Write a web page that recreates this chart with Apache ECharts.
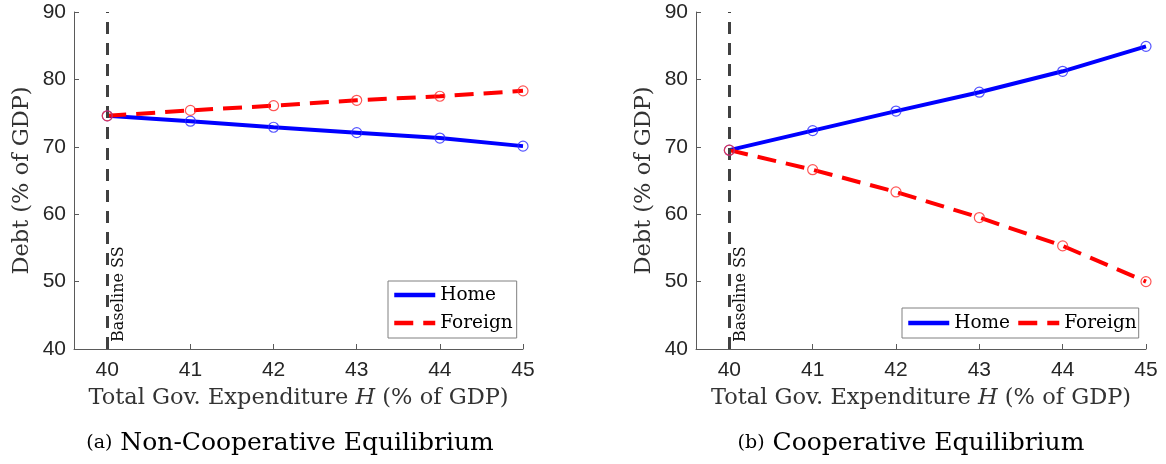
<!DOCTYPE html>
<html>
<head>
<meta charset="utf-8">
<title>Debt and total government expenditure</title>
<script src="https://cdn.jsdelivr.net/npm/echarts@6/dist/echarts.min.js"></script>
<style>body{margin:0;background:#fff;}</style>
</head>
<body>
<div id="main" style="width:1166px;height:464px;"></div>
<script type="text/javascript">
// total gov. expenditure H (% of GDP)
var hValues = [40, 41, 42, 43, 44, 45];
var xTicks = [40, 41, 42, 43, 44, 45];
var xMin = 39.6, xMax = 45;
var yMin = 40, yMax = 90, yStep = 10;
var baselineH = 40;

// (a) non-cooperative equilibrium, debt in % of GDP
var nonCoopHome = [74.6, 73.8, 72.9, 72.1, 71.3, 70.1];
var nonCoopForeign = [74.6, 75.4, 76.1, 76.9, 77.5, 78.3];
// (b) cooperative equilibrium
var coopHome = [69.5, 72.4, 75.3, 78.1, 81.2, 84.9];
var coopForeign = [69.5, 66.6, 63.3, 59.5, 55.3, 50.0];

var seriesNames = ['Home', 'Foreign'];
var captions = ['Non-Cooperative Equilibrium', 'Cooperative Equilibrium'];

var serif = 'DejaVu Serif';
var sans = 'Liberation Sans';
var blue = '#0000ff', red = '#ff0000';

function pairs(xs, ys) {
    return xs.map(function (x, i) { return [x, ys[i]]; });
}

function xAxisFor(idx) {
    return {
        type: 'value', gridIndex: idx, min: xMin, max: xMax,
        axisLine: {show: true, onZero: false, lineStyle: {color: '#5a5a5a', width: 1}},
        axisTick: {show: true, inside: true, length: 5, customValues: xTicks, lineStyle: {color: '#5a5a5a'}},
        axisLabel: {customValues: xTicks, fontFamily: sans, fontSize: 21, color: '#262626', margin: 11},
        splitLine: {show: false},
        name: '{n|Total Gov. Expenditure }{i|H}{n| (% of GDP)}',
        nameLocation: 'middle', nameGap: 38,
        nameTextStyle: {
            rich: {
                n: {fontFamily: serif, fontSize: 22.5, color: '#333'},
                i: {fontFamily: serif, fontSize: 22.5, fontStyle: 'italic', color: '#333'}
            }
        }
    };
}

function yAxisFor(idx) {
    return {
        type: 'value', gridIndex: idx, min: yMin, max: yMax, interval: yStep,
        axisLine: {show: true, lineStyle: {color: '#5a5a5a', width: 1}},
        axisTick: {show: true, inside: true, length: 5, lineStyle: {color: '#5a5a5a'}},
        axisLabel: {fontFamily: sans, fontSize: 21, color: '#262626', margin: 8},
        splitLine: {show: false},
        name: 'Debt (% of GDP)',
        nameLocation: 'middle', nameGap: 40,
        nameTextStyle: {fontFamily: serif, fontSize: 22.5, color: '#333'}
    };
}

function panelSeries(idx, home, foreign) {
    return [
        {
            name: seriesNames[0], type: 'line', xAxisIndex: idx, yAxisIndex: idx,
            data: pairs(hValues, home), symbol: 'none',
            lineStyle: {color: blue, width: 4}, itemStyle: {color: blue},
            z: 3,
            markLine: {
                silent: true, symbol: 'none', animation: false,
                data: [{xAxis: baselineH}],
                lineStyle: {color: '#404040', width: 3, type: [12, 9]},
                label: {
                    show: true, formatter: 'Baseline SS', position: 'insideStartBottom',
                    distance: [7, 4], fontFamily: serif, fontSize: 16, color: '#111'
                }
            }
        },
        {
            name: seriesNames[1], type: 'line', xAxisIndex: idx, yAxisIndex: idx,
            data: pairs(hValues, foreign), symbol: 'none',
            lineStyle: {color: red, width: 4, type: [19, 10]}, itemStyle: {color: red},
            z: 4
        },
        {
            name: 'Home markers', type: 'scatter', xAxisIndex: idx, yAxisIndex: idx,
            data: pairs(hValues, home), symbol: 'circle', symbolSize: 10,
            itemStyle: {color: 'rgba(0,0,0,0)', borderColor: '#2a2aff', borderWidth: 1.2},
            z: 5
        },
        {
            name: 'Foreign markers', type: 'scatter', xAxisIndex: idx, yAxisIndex: idx,
            data: pairs(hValues, foreign), symbol: 'circle', symbolSize: 10,
            itemStyle: {color: 'rgba(0,0,0,0)', borderColor: '#ff2a2a', borderWidth: 1.2},
            z: 6
        }
    ];
}

var legendBase = {
    data: seriesNames,
    itemWidth: 41, itemHeight: 14,
    itemStyle: {opacity: 0, borderWidth: 0},
    lineStyle: {width: 4.5},
    backgroundColor: '#fff', borderColor: '#808080', borderWidth: 1, borderRadius: 0,
    textStyle: {fontFamily: serif, fontSize: 18.5, color: '#000', lineHeight: 22},
    selectedMode: false
};

var captionRich = {
    s: {fontFamily: serif, fontSize: 19, fill: '#000'},
    b: {fontFamily: serif, fontSize: 25, fill: '#000'}
};

var option = {
    animation: false,
    backgroundColor: '#fff',
    grid: [
        {left: 74, top: 12, width: 449, height: 337},
        {left: 696, top: 12, width: 450, height: 337}
    ],
    xAxis: [xAxisFor(0), xAxisFor(1)],
    yAxis: [yAxisFor(0), yAxisFor(1)],
    legend: [
        Object.assign({}, legendBase, {orient: 'vertical', left: 388, top: 281, itemGap: 6, padding: [3, 4, 4, 4]}),
        Object.assign({}, legendBase, {orient: 'horizontal', left: 902, top: 308, itemGap: 6, padding: [4, 2, 4, 4]})
    ],
    graphic: [
        {
            type: 'text', x: 290, y: 443,
            style: {
                text: '{s|(a)}{b| ' + captions[0] + '}',
                textAlign: 'center', textVerticalAlign: 'middle',
                rich: captionRich
            }
        },
        {
            type: 'text', x: 911, y: 443,
            style: {
                text: '{s|(b)}{b| ' + captions[1] + '}',
                textAlign: 'center', textVerticalAlign: 'middle',
                rich: captionRich
            }
        }
    ],
    series: panelSeries(0, nonCoopHome, nonCoopForeign).concat(panelSeries(1, coopHome, coopForeign))
};

var myChart = echarts.init(document.getElementById('main'));
myChart.setOption(option);
</script>
</body>
</html>
